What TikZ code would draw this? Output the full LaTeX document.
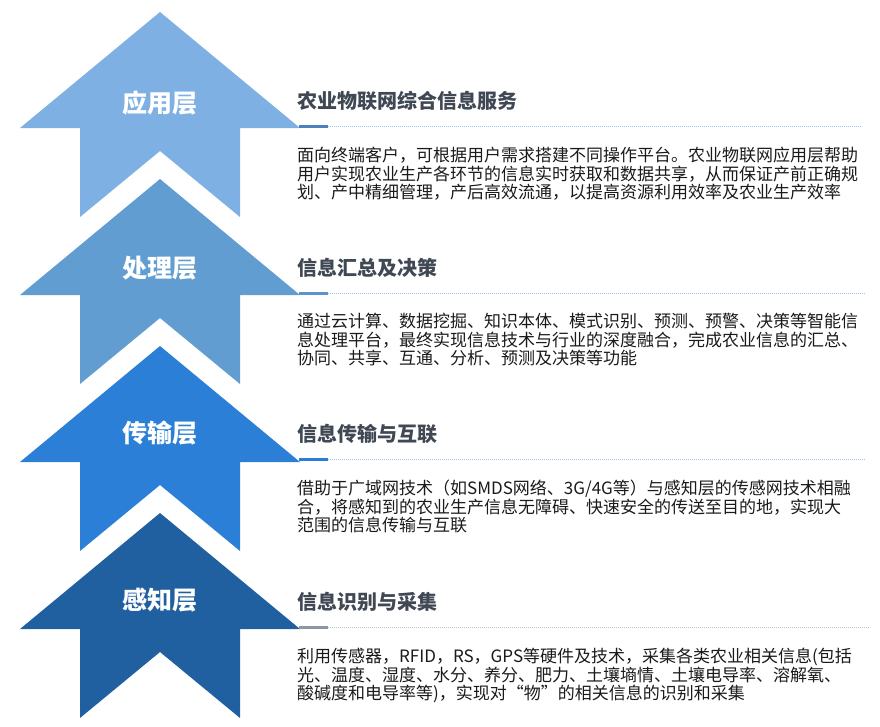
\documentclass[tikz,border=0pt]{standalone}
\usepackage{fontspec}
\setmainfont{Noto Sans CJK SC}

\definecolor{appblue}{RGB}{126,176,227}
\definecolor{procblue}{RGB}{98,157,209}
\definecolor{transblue}{RGB}{43,127,214}
\definecolor{senseblue}{RGB}{33,96,160}
\definecolor{appline}{RGB}{78,128,187}
\definecolor{procline}{RGB}{91,149,206}
\definecolor{transline}{RGB}{42,126,213}
\definecolor{senseline}{RGB}{140,150,165}
\definecolor{bluedots}{RGB}{160,196,232}
\definecolor{graydots}{RGB}{190,195,202}
\definecolor{titlegray}{RGB}{64,72,84}
\definecolor{bodyblack}{RGB}{26,26,26}

\begin{document}
\begin{tikzpicture}[x=1pt,y=-1pt]
  \useasboundingbox (0,0) rectangle (880,726);

  % Pfeile.
  \foreach \o/\c in {0/appblue, 167/procblue, 334/transblue, 501/senseblue}
    \fill[\c] (160,12+\o) -- (300,128+\o) -- (240,128+\o) -- (240,217+\o)
      -- (160,151+\o) -- (80,217+\o) -- (80,128+\o) -- (20,128+\o) -- cycle;

  % Schichtnamen.
  \tikzstyle{layer}=[text=white, font=\bfseries\fontsize{25}{30}\selectfont]
  \node[layer] (app) at (160,103) {应用层};
  \node[layer] (proc) at (160,268) {处理层};
  \node[layer] (trans) at (160,433) {传输层};
  \node[layer] (sense) at (160,600) {感知层};

  % Ueberschriften.
  \tikzstyle{title}=[anchor=west, inner sep=0pt, text=titlegray, font=\bfseries\fontsize{20}{24}\selectfont]
  \node[title] (apptitle) at (297,101) {农业物联网综合信息服务};
  \node[title] (proctitle) at (297,268) {信息汇总及决策};
  \node[title] (transtitle) at (297,434) {信息传输与互联};
  \node[title] (sensetitle) at (297,602) {信息识别与采集};

  % Linien.
  \tikzstyle{accent}=[line width=3pt]
  \tikzstyle{rule}=[line width=0.7pt, dash pattern=on 1pt off 1pt]
  \coordinate (appa) at (299,126);  \coordinate (appb) at (328,126);  \coordinate (appc) at (862,126);
  \coordinate (proca) at (299,293); \coordinate (procb) at (328,293); \coordinate (procc) at (866,293);
  \coordinate (transa) at (299,459); \coordinate (transb) at (328,459); \coordinate (transc) at (866,459);
  \coordinate (sensea) at (299,627); \coordinate (senseb) at (328,627); \coordinate (sensec) at (870,627);
  \draw[accent, appline] (appa) -- (appb);
  \draw[rule, bluedots] (appb) -- (appc);
  \draw[accent, procline] (proca) -- (procb);
  \draw[rule, bluedots] (procb) -- (procc);
  \draw[accent, transline] (transa) -- (transb);
  \draw[rule, bluedots] (transb) -- (transc);
  \draw[accent, senseline] (sensea) -- (senseb);
  \draw[rule, graydots] (senseb) -- (sensec);

  % Beschreibungen.
  \tikzstyle{body}=[anchor=north west, inner sep=0pt, align=left, text=bodyblack, font=\fontsize{17}{18.6}\selectfont]
  \node[body] (apptext) at (297,147) {面向终端客户，可根据用户需求搭建不同操作平台。农业物联网应用层帮助\\
    用户实现农业生产各环节的信息实时获取和数据共享，从而保证产前正确规\\
    划、产中精细管理，产后高效流通，以提高资源利用效率及农业生产效率};
  \node[body] (proctext) at (297,313) {通过云计算、数据挖掘、知识本体、模式识别、预测、预警、决策等智能信\\
    息处理平台，最终实现信息技术与行业的深度融合，完成农业信息的汇总、\\
    协同、共享、互通、分析、预测及决策等功能};
  \node[body] (transtext) at (297,480) {借助于广域网技术（如SMDS网络、3G/4G等）与感知层的传感网技术相融\\
    合，将感知到的农业生产信息无障碍、快速安全的传送至目的地，实现大\\
    范围的信息传输与互联};
  \node[body] (sensetext) at (297,648) {利用传感器，RFID，RS，GPS等硬件及技术，采集各类农业相关信息(包括\\
    光、温度、湿度、水分、养分、肥力、土壤墒情、土壤电导率、溶解氧、\\
    酸碱度和电导率等)，实现对“物”的相关信息的识别和采集};
\end{tikzpicture}
\end{document}
